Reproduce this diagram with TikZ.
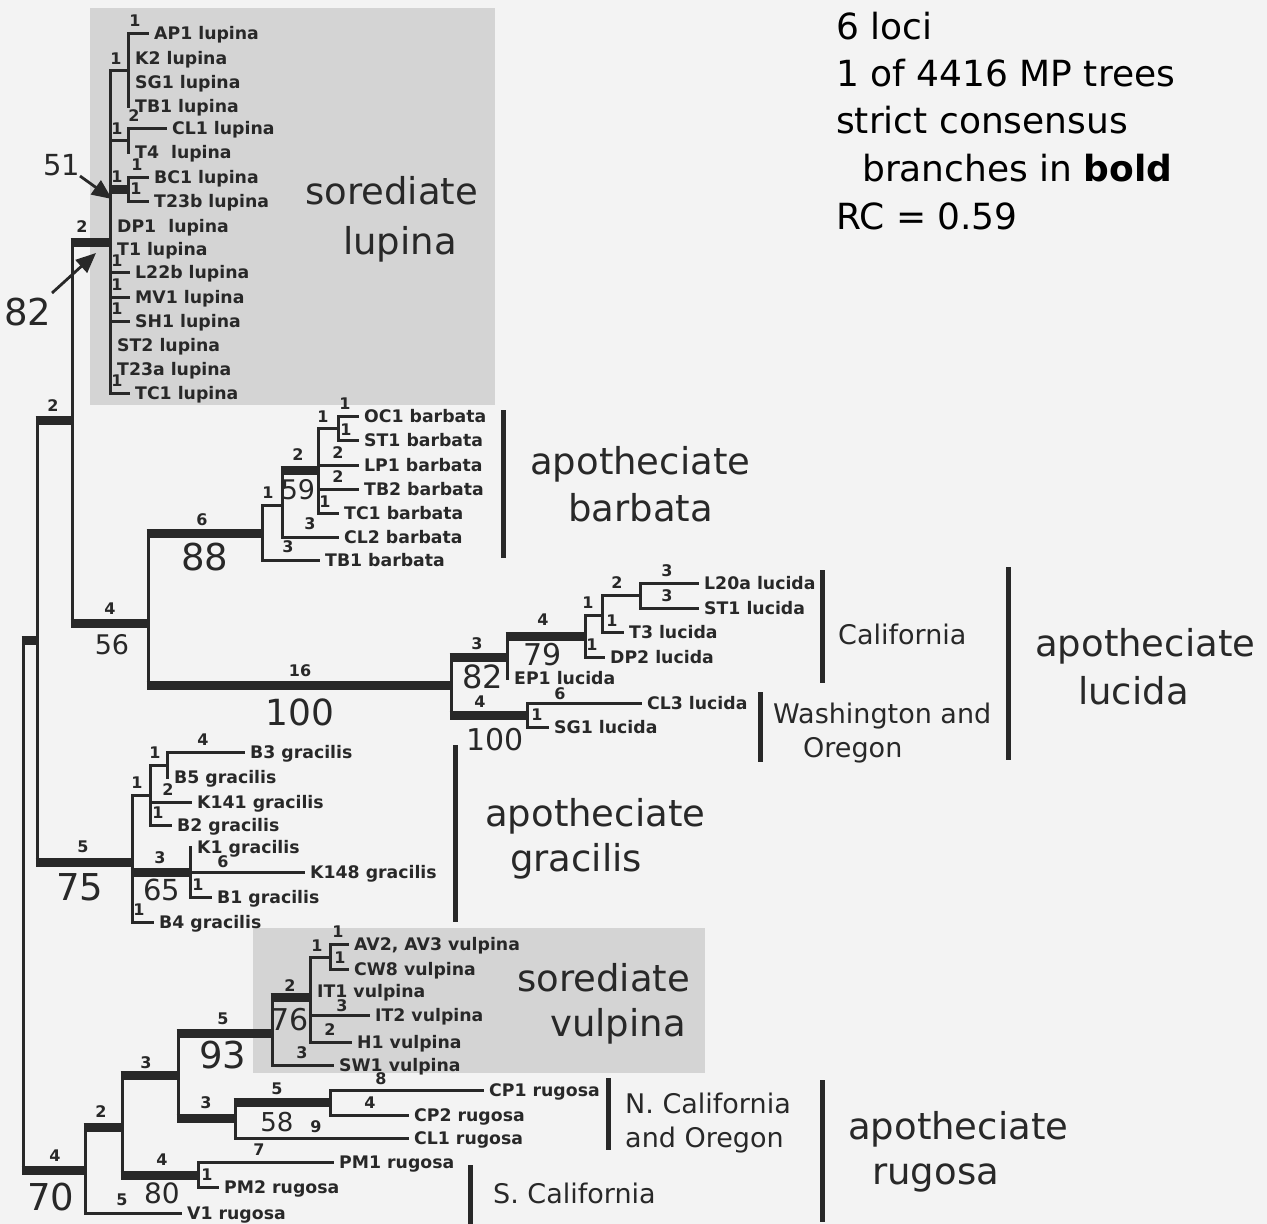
\documentclass[tikz,border=0pt]{standalone}
\usepackage{fontspec}
\setmainfont{DejaVu Sans}
\usetikzlibrary{arrows.meta}
\definecolor{ink}{RGB}{40,40,40}
\definecolor{bgc}{RGB}{243,243,243}
\definecolor{boxgray}{RGB}{212,212,212}
\tikzset{
  tl/.style={line width=3pt, draw=ink, line cap=rect},
  tk/.style={line width=9pt, draw=ink, shorten <=-1.5pt, shorten >=-1.5pt},
  leaf/.style={anchor=west, inner xsep=7pt, inner ysep=0pt, text height=12pt, text depth=0pt,
    font=\fontsize{17.3}{19}\selectfont\bfseries, text=ink},
  bl/.style={font=\fontsize{16}{17}\selectfont\bfseries, text=ink, inner sep=0pt},
  bs/.style={font=\fontsize{#1}{#1}\selectfont, text=ink, inner sep=0pt},
  big/.style={anchor=base west, font=\fontsize{37}{40}\selectfont, text=ink, inner sep=0pt},
  reg/.style={anchor=base west, font=\fontsize{27}{30}\selectfont, text=ink, inner sep=0pt},
  note/.style={anchor=base west, font=\fontsize{36}{38}\selectfont, text=black, inner sep=0pt},
  clbar/.style={line width=5pt, draw=ink},
  arr/.style={line width=2.8pt, draw=ink, -{Triangle[length=20pt,width=17pt]}}
}
\newcommand\vt[3]{\draw[tl] (#1 |- #2) -- (#1 |- #3);}
\newcommand\hn[2]{\draw[tl] (#1 |- #2) -- (#2);}
\newcommand\hk[2]{\draw[tk] (#1 |- #2) -- (#2);}
\begin{document}
\begin{tikzpicture}[x=1pt,y=-1pt]
\useasboundingbox (0,0) rectangle (1267,1224);
\fill[bgc] (0,0) rectangle (1267,1224);
\fill[boxgray] (90,8) rectangle (495,405);
\fill[boxgray] (253,928) rectangle (705,1073);

% ---------- backbone ----------
\coordinate (R) at (23,905);
\coordinate (A) at (37,640);
\coordinate (B) at (72,420);
\coordinate (L) at (110,242);
\coordinate (C) at (148,623);
\coordinate (G) at (132,862);
\coordinate (Rg) at (85,1170);
\vt{R}{A}{Rg}
\hk{R}{A} \hk{R}{Rg}
\vt{A}{B}{G}
\hk{A}{B} \hk{A}{G}
\vt{B}{L}{C}
\hk{B}{L} \hk{B}{C}

% ---------- lupina ----------
\coordinate (L1) at (128,70);
\coordinate (L2) at (128,140.5);
\coordinate (L3) at (128,189);
\coordinate (tAP1) at (147,33);
\coordinate (tK2) at (128,58);
\coordinate (tSG1) at (128,82);
\coordinate (tTB1) at (128,106);
\coordinate (tCL1) at (165,128);
\coordinate (tT4) at (128,152);
\coordinate (tBC1) at (147,177);
\coordinate (tT23b) at (147,201);
\coordinate (tDP1) at (110,226);
\coordinate (tT1) at (110,249);
\coordinate (tL22b) at (128,272);
\coordinate (tMV1) at (128,297);
\coordinate (tSH1) at (128,321);
\coordinate (tST2) at (110,345);
\coordinate (tT23a) at (110,369);
\coordinate (tTC1) at (128,393);
\vt{L}{L1}{tTC1}
\vt{L1}{tAP1}{tTB1}
\vt{L2}{tCL1}{tT4}
\vt{L3}{tBC1}{tT23b}
\hn{L}{L1} \hn{L}{L2} \hk{L}{L3}
\hn{L}{tL22b} \hn{L}{tMV1} \hn{L}{tSH1} \hn{L}{tTC1}
\hn{L1}{tAP1} \hn{L2}{tCL1} \hn{L3}{tBC1} \hn{L3}{tT23b}

% ---------- barbata ----------
\coordinate (Bb) at (262,533);
\coordinate (Bb2) at (282,505);
\coordinate (Bb3) at (318,470);
\coordinate (Bb4) at (338,428);
\coordinate (tOC1) at (357,416);
\coordinate (tST1b) at (357,440);
\coordinate (tLP1) at (357,465);
\coordinate (tTB2) at (357,489);
\coordinate (tTC1b) at (337,513);
\coordinate (tCL2) at (337,537);
\coordinate (tTB1b) at (318,560);

% ---------- lucida ----------
\coordinate (Lc) at (451,685);
\coordinate (Lc2) at (507,657);
\coordinate (Lc3) at (585,636);
\coordinate (Lc4) at (602,615);
\coordinate (Lc5) at (640,595);
\coordinate (Lc6) at (527,715);
\coordinate (tL20a) at (697,583);
\coordinate (tST1l) at (697,608);
\coordinate (tT3) at (622,632);
\coordinate (tDP2) at (603,657);
\coordinate (tEP1) at (507,678);
\coordinate (tCL3) at (640,703);
\coordinate (tSG1l) at (547,727);

\vt{C}{Bb}{Lc}
\hk{C}{Bb} \hk{C}{Lc}
\vt{Bb}{Bb2}{tTB1b}
\vt{Bb2}{Bb3}{tCL2}
\vt{Bb3}{Bb4}{tTC1b}
\vt{Bb4}{tOC1}{tST1b}
\hn{Bb}{Bb2} \hn{Bb}{tTB1b}
\hk{Bb2}{Bb3} \hn{Bb2}{tCL2}
\hn{Bb3}{Bb4} \hn{Bb3}{tLP1} \hn{Bb3}{tTB2} \hn{Bb3}{tTC1b}
\hn{Bb4}{tOC1} \hn{Bb4}{tST1b}

\vt{Lc}{Lc2}{Lc6}
\vt{Lc2}{Lc3}{tEP1}
\vt{Lc3}{Lc4}{tDP2}
\vt{Lc4}{Lc5}{tT3}
\vt{Lc5}{tL20a}{tST1l}
\vt{Lc6}{tCL3}{tSG1l}
\hk{Lc}{Lc2} \hk{Lc}{Lc6} \hk{Lc2}{Lc3}
\hn{Lc3}{Lc4} \hn{Lc3}{tDP2}
\hn{Lc4}{Lc5} \hn{Lc4}{tT3}
\hn{Lc5}{tL20a} \hn{Lc5}{tST1l}
\hn{Lc6}{tCL3} \hn{Lc6}{tSG1l}

% ---------- gracilis ----------
\coordinate (G2) at (150,795);
\coordinate (G3) at (167,765);
\coordinate (G5) at (190,872);
\coordinate (tB3) at (243,752);
\coordinate (tB5) at (167,777);
\coordinate (tK141) at (190,802);
\coordinate (tB2) at (170,825);
\coordinate (tK1) at (190,847);
\coordinate (tK148) at (303,872);
\coordinate (tB1) at (210,897);
\coordinate (tB4) at (152,922);
\vt{G}{G2}{tB4}
\vt{G2}{G3}{tB2}
\vt{G3}{tB3}{tB5}
\vt{G5}{tK1}{tB1}
\hn{G}{G2} \hk{G}{G5} \hn{G}{tB4}
\hn{G2}{G3} \hn{G2}{tK141} \hn{G2}{tB2}
\hn{G3}{tB3}
\hn{G5}{tK148} \hn{G5}{tB1}

% ---------- vulpina / rugosa ----------
\coordinate (Rg2) at (122,1127);
\coordinate (Rp) at (198,1175);
\coordinate (Rg3) at (178,1075);
\coordinate (V) at (272,1033);
\coordinate (V2) at (310,997);
\coordinate (V3) at (330,957);
\coordinate (Rn) at (235,1118);
\coordinate (Rn2) at (330,1102);
\coordinate (tV1) at (180,1213);
\coordinate (tPM1) at (332,1162);
\coordinate (tPM2) at (217,1187);
\coordinate (tSW1) at (332,1065);
\coordinate (tAV2) at (347,944);
\coordinate (tCW8) at (347,969);
\coordinate (tIT1) at (310,991);
\coordinate (tIT2) at (368,1015);
\coordinate (tH1) at (350,1042);
\coordinate (tCP1) at (482,1090);
\coordinate (tCP2) at (407,1115);
\coordinate (tCL1r) at (407,1138);
\vt{Rg}{Rg2}{tV1}
\vt{Rg2}{Rg3}{Rp}
\vt{Rp}{tPM1}{tPM2}
\vt{Rg3}{V}{Rn}
\vt{V}{V2}{tSW1}
\vt{V2}{V3}{tH1}
\vt{V3}{tAV2}{tCW8}
\vt{Rn}{Rn2}{tCL1r}
\vt{Rn2}{tCP1}{tCP2}
\hk{Rg}{Rg2} \hn{Rg}{tV1}
\hk{Rg2}{Rg3} \hk{Rg2}{Rp}
\hn{Rp}{tPM1} \hn{Rp}{tPM2}
\hk{Rg3}{V} \hk{Rg3}{Rn}
\hk{V}{V2} \hn{V}{tSW1}
\hn{V2}{V3} \hn{V2}{tIT2} \hn{V2}{tH1}
\hn{V3}{tAV2} \hn{V3}{tCW8}
\hk{Rn}{Rn2} \hn{Rn}{tCL1r}
\hn{Rn2}{tCP1} \hn{Rn2}{tCP2}

% ---------- leaf labels ----------
\node[leaf] (nAP1) at (tAP1) {AP1 lupina};
\node[leaf] (nK2) at (tK2) {K2 lupina};
\node[leaf] (nSG1) at (tSG1) {SG1 lupina};
\node[leaf] (nTB1) at (tTB1) {TB1 lupina};
\node[leaf] (nCL1) at (tCL1) {CL1 lupina};
\node[leaf] (nT4) at (tT4) {T4\ \ lupina};
\node[leaf] (nBC1) at (tBC1) {BC1 lupina};
\node[leaf] (nT23b) at (tT23b) {T23b lupina};
\node[leaf] (nDP1) at (tDP1) {DP1\ \ lupina};
\node[leaf] (nT1) at (tT1) {T1 lupina};
\node[leaf] (nL22b) at (tL22b) {L22b lupina};
\node[leaf] (nMV1) at (tMV1) {MV1 lupina};
\node[leaf] (nSH1) at (tSH1) {SH1 lupina};
\node[leaf] (nST2) at (tST2) {ST2 lupina};
\node[leaf] (nT23a) at (tT23a) {T23a lupina};
\node[leaf] (nTC1) at (tTC1) {TC1 lupina};

\node[leaf] (nOC1) at (tOC1) {OC1 barbata};
\node[leaf] (nST1b) at (tST1b) {ST1 barbata};
\node[leaf] (nLP1) at (tLP1) {LP1 barbata};
\node[leaf] (nTB2) at (tTB2) {TB2 barbata};
\node[leaf] (nTC1b) at (tTC1b) {TC1 barbata};
\node[leaf] (nCL2) at (tCL2) {CL2 barbata};
\node[leaf] (nTB1b) at (tTB1b) {TB1 barbata};

\node[leaf] (nL20a) at (tL20a) {L20a lucida};
\node[leaf] (nST1l) at (tST1l) {ST1 lucida};
\node[leaf] (nT3) at (tT3) {T3 lucida};
\node[leaf] (nDP2) at (tDP2) {DP2 lucida};
\node[leaf] (nEP1) at (tEP1) {EP1 lucida};
\node[leaf] (nCL3) at (tCL3) {CL3 lucida};
\node[leaf] (nSG1l) at (tSG1l) {SG1 lucida};

\node[leaf] (nB3) at (tB3) {B3 gracilis};
\node[leaf] (nB5) at (tB5) {B5 gracilis};
\node[leaf] (nK141) at (tK141) {K141 gracilis};
\node[leaf] (nB2) at (tB2) {B2 gracilis};
\node[leaf] (nK1) at (tK1) {K1 gracilis};
\node[leaf] (nK148) at (tK148) {K148 gracilis};
\node[leaf] (nB1) at (tB1) {B1 gracilis};
\node[leaf] (nB4) at (tB4) {B4 gracilis};

\node[leaf] (nAV2) at (tAV2) {AV2, AV3 vulpina};
\node[leaf] (nCW8) at (tCW8) {CW8 vulpina};
\node[leaf] (nIT1) at (tIT1) {IT1 vulpina};
\node[leaf] (nIT2) at (tIT2) {IT2 vulpina};
\node[leaf] (nH1) at (tH1) {H1 vulpina};
\node[leaf] (nSW1) at (tSW1) {SW1 vulpina};

\node[leaf] (nCP1) at (tCP1) {CP1 rugosa};
\node[leaf] (nCP2) at (tCP2) {CP2 rugosa};
\node[leaf] (nCL1r) at (tCL1r) {CL1 rugosa};
\node[leaf] (nPM1) at (tPM1) {PM1 rugosa};
\node[leaf] (nPM2) at (tPM2) {PM2 rugosa};
\node[leaf] (nV1) at (tV1) {V1 rugosa};

% ---------- branch lengths ----------
\node[bl] (b1) at (135,21) {1};
\node[bl] (b2) at (116,59) {1};
\node[bl] (b3) at (117,129) {1};
\node[bl] (b4) at (134,116) {2};
\node[bl] (b5) at (117,177) {1};
\node[bl] (b6) at (137,165) {1};
\node[bl] (b7) at (136,189) {1};
\node[bl] (b8) at (82,227) {2};
\node[bl] (b9) at (117,261) {1};
\node[bl] (b10) at (117,285) {1};
\node[bl] (b11) at (117,309) {1};
\node[bl] (b12) at (117,381) {1};
\node[bl] (b13) at (53,406) {2};
\node[bl] (b14) at (110,609) {4};
\node[bl] (b15) at (202,520) {6};
\node[bl] (b16) at (268,493) {1};
\node[bl] (b17) at (288,547) {3};
\node[bl] (b18) at (298,455) {2};
\node[bl] (b19) at (310,524) {3};
\node[bl] (b20) at (323,417) {1};
\node[bl] (b21) at (345,404) {1};
\node[bl] (b22) at (346,430) {1};
\node[bl] (b23) at (338,453) {2};
\node[bl] (b24) at (338,477) {2};
\node[bl] (b25) at (325,502) {1};
\node[bl] (b26) at (300,671) {16};
\node[bl] (b27) at (477,644) {3};
\node[bl] (b28) at (480,702) {4};
\node[bl] (b29) at (543,620) {4};
\node[bl] (b30) at (588,603) {1};
\node[bl] (b31) at (592,645) {1};
\node[bl] (b32) at (617,583) {2};
\node[bl] (b33) at (612,621) {1};
\node[bl] (b34) at (667,571) {3};
\node[bl] (b35) at (667,596) {3};
\node[bl] (b36) at (560,694) {6};
\node[bl] (b37) at (537,715) {1};
\node[bl] (b38) at (83,847) {5};
\node[bl] (b39) at (137,783) {1};
\node[bl] (b40) at (155,753) {1};
\node[bl] (b41) at (203,740) {4};
\node[bl] (b42) at (168,790) {2};
\node[bl] (b43) at (158,813) {1};
\node[bl] (b44) at (160,858) {3};
\node[bl] (b45) at (223,862) {6};
\node[bl] (b46) at (198,885) {1};
\node[bl] (b47) at (139,910) {1};
\node[bl] (b48) at (223,1019) {5};
\node[bl] (b49) at (290,986) {2};
\node[bl] (b50) at (317,946) {1};
\node[bl] (b51) at (338,932) {1};
\node[bl] (b52) at (340,958) {1};
\node[bl] (b53) at (342,1006) {3};
\node[bl] (b54) at (330,1030) {2};
\node[bl] (b55) at (302,1053) {3};
\node[bl] (b56) at (55,1156) {4};
\node[bl] (b57) at (101,1112) {2};
\node[bl] (b58) at (122,1200) {5};
\node[bl] (b59) at (146,1063) {3};
\node[bl] (b60) at (162,1160) {4};
\node[bl] (b61) at (259,1150) {7};
\node[bl] (b62) at (207,1175) {1};
\node[bl] (b63) at (206,1103) {3};
\node[bl] (b64) at (277,1089) {5};
\node[bl] (b65) at (316,1127) {9};
\node[bl] (b66) at (381,1079) {8};
\node[bl] (b67) at (370,1103) {4};

% ---------- bootstrap values ----------
\node[bs=37] (s82a) at (28,312) {82};
\node[bs=29] (s51) at (62,165) {51};
\node[bs=27] (s56) at (112,645) {56};
\node[bs=37] (s88) at (205,557) {88};
\node[bs=27] (s59) at (298,490) {59};
\node[bs=36] (s100a) at (300,712) {100};
\node[bs=32] (s82b) at (483,677) {82};
\node[bs=30] (s79) at (543,655) {79};
\node[bs=30] (s100b) at (495,740) {100};
\node[bs=37] (s75) at (80,887) {75};
\node[bs=29] (s65) at (162,890) {65};
\node[bs=37] (s93) at (223,1055) {93};
\node[bs=30] (s76) at (290,1020) {76};
\node[bs=26] (s58) at (277,1122) {58};
\node[bs=28] (s80) at (162,1193) {80};
\node[bs=37] (s70) at (51,1197) {70};

% arrows
\coordinate (a51s) at (80,176);
\coordinate (a51t) at (112,199);
\draw[arr] (a51s) -- (a51t);
\coordinate (a82s) at (52,293);
\coordinate (a82t) at (96,253);
\draw[arr] (a82s) -- (a82t);

% ---------- clade bars ----------
\coordinate (kb1) at (503,410); \coordinate (kb2) at (503,558);
\draw[clbar] (kb1) -- (kb2);
\coordinate (kg1) at (455,745); \coordinate (kg2) at (455,922);
\draw[clbar] (kg1) -- (kg2);
\coordinate (kc1) at (822,570); \coordinate (kc2) at (822,683);
\draw[clbar] (kc1) -- (kc2);
\coordinate (kw1) at (760,692); \coordinate (kw2) at (760,762);
\draw[clbar] (kw1) -- (kw2);
\coordinate (kl1) at (1008,567); \coordinate (kl2) at (1008,760);
\draw[clbar] (kl1) -- (kl2);
\coordinate (kn1) at (608,1078); \coordinate (kn2) at (608,1150);
\draw[clbar] (kn1) -- (kn2);
\coordinate (ks1) at (470,1165); \coordinate (ks2) at (470,1224);
\draw[clbar] (ks1) -- (ks2);
\coordinate (kr1) at (822,1080); \coordinate (kr2) at (822,1222);
\draw[clbar] (kr1) -- (kr2);

% ---------- group labels ----------
\node[big] (g1) at (305,204) {sorediate};
\node[big] (g2) at (343,254) {lupina};
\node[big] (g3) at (530,474) {apotheciate};
\node[big] (g4) at (568,521) {barbata};
\node[reg] (g5) at (838,644) {California};
\node[reg] (g6) at (773,723) {Washington and};
\node[reg] (g7) at (803,757) {Oregon};
\node[big] (g8) at (1035,656) {apotheciate};
\node[big] (g9) at (1078,704) {lucida};
\node[big] (g10) at (485,826) {apotheciate};
\node[big] (g11) at (510,871) {gracilis};
\node[big] (g12) at (517,991) {sorediate};
\node[big] (g13) at (550,1036) {vulpina};
\node[reg] (g14) at (625,1113) {N. California};
\node[reg] (g15) at (625,1147) {and Oregon};
\node[reg] (g16) at (493,1203) {S. California};
\node[big] (g17) at (848,1139) {apotheciate};
\node[big] (g18) at (872,1184) {rugosa};

% ---------- notes ----------
\node[note] (t1) at (836,39) {6 loci};
\node[note] (t2) at (836,86) {1 of 4416 MP trees};
\node[note] (t3) at (836,133) {strict consensus};
\node[note] (t4) at (862,181) {branches in \textbf{bold}};
\node[note] (t5) at (836,229) {RC = 0.59};
\end{tikzpicture}
\end{document}
